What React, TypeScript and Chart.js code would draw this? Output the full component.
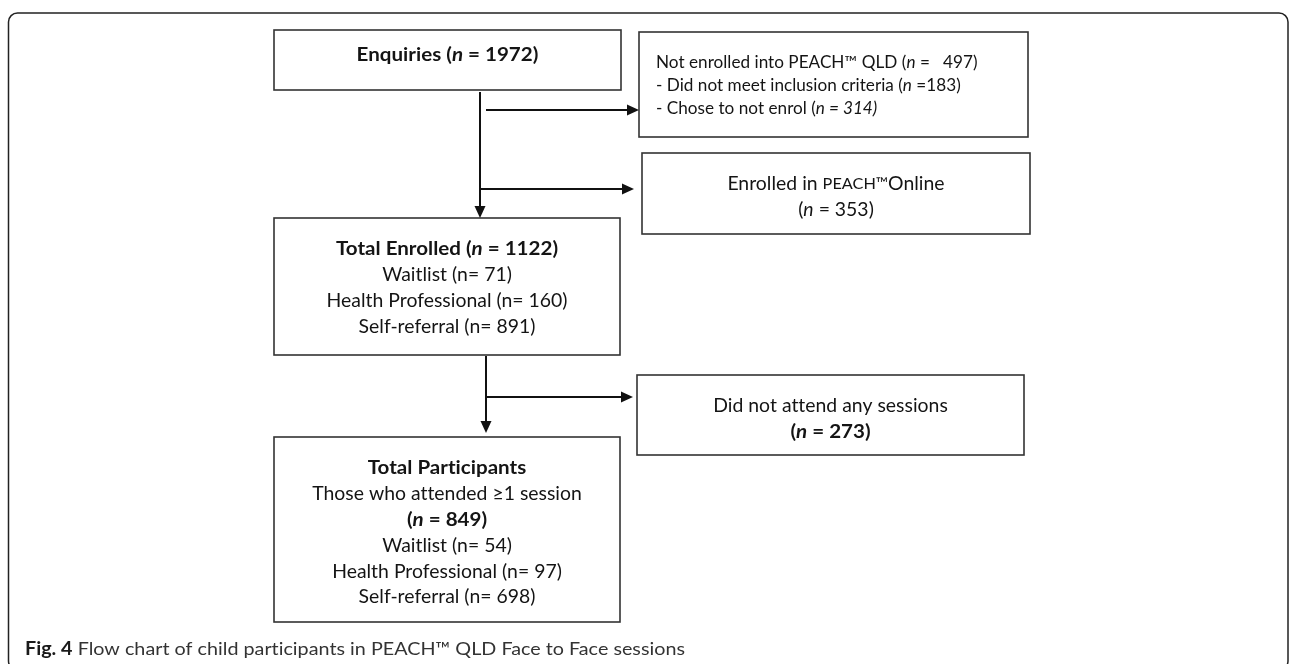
import React, { useEffect, useRef } from 'react';
import { Chart, registerables } from 'chart.js';

Chart.register(...registerables);

// ---------------- DATA ----------------
const stageLabels = ['Enquiries', 'Total Enrolled', 'Total Participants'];
const stageCounts = [1972, 1122, 849];
const exitLabels = ['Not enrolled into PEACH™ QLD', 'Enrolled in ', 'Did not attend any sessions'];
const exitCounts = [497, 353, 273];
const notEnrolledReasons = ['- Did not meet inclusion criteria', '- Chose to not enrol'];
const notEnrolledCounts = [183, 314];
const referralSources = ['Waitlist', 'Health Professional', 'Self-referral'];
const enrolledBySource = [71, 160, 891];
const participantsBySource = [54, 97, 698];
const participantsNote = 'Those who attended ≥1 session';
const captionBold = 'Fig. 4';
const captionText = ' Flow chart of child participants in PEACH™ QLD Face to Face sessions';

// ---------------- STYLE / LAYOUT ----------------
type Run = { t: string; b?: boolean; i?: boolean; s?: number };
type Line = Run[];

const FONT = 'Lato, "Open Sans", sans-serif';
const BODY_SIZE = 19;
const CAPTION_SIZE = 18;
const BOLD_WIDEN = 1.06;
const TEXT_COLOR = '#141414';
const BOX_COLOR = '#333333';
const ARROW_COLOR = '#111111';

interface BoxLayout {
  x0: number; x1: number; y0: number; y1: number;
  align: 'center' | 'left';
  textX?: number;
  size?: number;
  lineY: number[];
}

const layout: Record<string, BoxLayout> = {
  enquiries: { x0: 274, x1: 621, y0: 30, y1: 90, align: 'center', lineY: [55] },
  notEnrolled: { x0: 639, x1: 1028, y0: 32, y1: 137, align: 'left', textX: 656, size: 0.885, lineY: [63, 86, 109] },
  online: { x0: 642, x1: 1030, y0: 153, y1: 234, align: 'center', lineY: [184, 210] },
  enrolled: { x0: 274, x1: 620, y0: 218, y1: 355, align: 'center', lineY: [249, 275, 301, 327] },
  noAttend: { x0: 637, x1: 1024, y0: 375, y1: 455, align: 'center', lineY: [406, 432] },
  participants: { x0: 274, x1: 620, y0: 437, y1: 622, align: 'center', lineY: [468, 494, 520, 546, 572, 597] },
};

// arrows: [x0, y0, x1, y1] connector geometry
const arrowLayout: number[][] = [
  [480, 92, 480, 218],
  [486, 110, 639, 110],
  [480, 189, 634, 189],
  [486, 356, 486, 433],
  [486, 397, 633, 397],
];

const frame = { x0: 8.5, y0: 13, x1: 1288, y1: 670, r: 9 };
const captionPos = { x: 25, y: 655, width: 660 };

// ---------------- TEXT BUILD ----------------
const boldN = (v: number): Line => [{ t: '(', b: true }, { t: 'n', b: true, i: true }, { t: ` = ${v})`, b: true }];
const srcLine = (k: number, v: number): Line => [{ t: `${referralSources[k]} (n= ${v})` }];

const boxTexts: Record<string, Line[]> = {
  enquiries: [[{ t: `${stageLabels[0]} (`, b: true }, { t: 'n', b: true, i: true }, { t: ` = ${stageCounts[0]})`, b: true }]],
  notEnrolled: [
    [{ t: `${exitLabels[0]} (` }, { t: 'n', i: true }, { t: ` =   ${exitCounts[0]})` }],
    [{ t: `${notEnrolledReasons[0]} (` }, { t: 'n', i: true }, { t: ` =${notEnrolledCounts[0]})` }],
    [{ t: `${notEnrolledReasons[1]} (` }, { t: `n = ${notEnrolledCounts[1]})`, i: true }],
  ],
  online: [
    [{ t: exitLabels[1] }, { t: 'PEACH™', s: 0.84 }, { t: 'Online' }],
    [{ t: '(' }, { t: 'n', i: true }, { t: ` = ${exitCounts[1]})` }],
  ],
  enrolled: [
    [{ t: `${stageLabels[1]} (`, b: true }, { t: 'n', b: true, i: true }, { t: ` = ${stageCounts[1]})`, b: true }],
    srcLine(0, enrolledBySource[0]),
    srcLine(1, enrolledBySource[1]),
    srcLine(2, enrolledBySource[2]),
  ],
  noAttend: [[{ t: exitLabels[2] }], boldN(exitCounts[2])],
  participants: [
    [{ t: stageLabels[2], b: true }],
    [{ t: participantsNote }],
    boldN(stageCounts[2]),
    srcLine(0, participantsBySource[0]),
    srcLine(1, participantsBySource[1]),
    srcLine(2, participantsBySource[2]),
  ],
};

function fontFor(r: Run, size: number) {
  return `${r.i ? 'italic ' : ''}${r.b ? 'bold ' : ''}${(size * (r.s || 1)).toFixed(2)}px ${FONT}`;
}

function setNoLig(ctx: CanvasRenderingContext2D) {
  const c = ctx as any;
  if ('letterSpacing' in c) c.letterSpacing = '0.01px';
}

function runW(ctx: CanvasRenderingContext2D, r: Run, size: number) {
  ctx.font = fontFor(r, size);
  return ctx.measureText(r.t).width * (r.b ? BOLD_WIDEN : 1);
}

function runsWidth(ctx: CanvasRenderingContext2D, runs: Line, size: number) {
  let w = 0;
  for (const r of runs) w += runW(ctx, r, size);
  return w;
}

function drawRuns(
  ctx: CanvasRenderingContext2D, runs: Line, x: number, y: number,
  align: 'center' | 'left', size: number, sx: number, color: string,
  baseline: CanvasTextBaseline = 'middle'
) {
  const w = runsWidth(ctx, runs, size) * sx;
  let cx = align === 'center' ? x - w / 2 : x;
  for (const r of runs) {
    const f = sx * (r.b ? BOLD_WIDEN : 1);
    ctx.save();
    ctx.translate(cx, y);
    ctx.scale(f, 1);
    ctx.fillStyle = color;
    ctx.textAlign = 'left';
    ctx.textBaseline = baseline;
    ctx.font = fontFor(r, size);
    ctx.fillText(r.t, 0, 0);
    ctx.restore();
    cx += runW(ctx, r, size) * sx;
  }
}

const flowPlugin = {
  id: 'flowchart',
  afterDraw(chart: any) {
    const ctx: CanvasRenderingContext2D = chart.ctx;
    const xs = chart.scales.x;
    const ys = chart.scales.y;
    const px = (v: number) => xs.getPixelForValue(v);
    const py = (v: number) => ys.getPixelForValue(v);

    ctx.save();
    setNoLig(ctx);

    // condense factor so the substitute font matches the reference line widths
    const bodySx = Math.min(1.1, Math.max(0.7, 241 / runsWidth(ctx, [{ t: 'Health Professional (n= 160)' }], BODY_SIZE)));

    // outer frame
    ctx.strokeStyle = '#222';
    ctx.lineWidth = 1.5;
    ctx.beginPath();
    ctx.roundRect(px(frame.x0), py(frame.y0), px(frame.x1) - px(frame.x0), py(frame.y1) - py(frame.y0), frame.r);
    ctx.stroke();

    // boxes
    ctx.strokeStyle = BOX_COLOR;
    ctx.lineWidth = 1.6;
    for (const key of Object.keys(layout)) {
      const b = layout[key];
      ctx.strokeRect(px(b.x0), py(b.y0), px(b.x1) - px(b.x0), py(b.y1) - py(b.y0));
      const lines = boxTexts[key];
      const size = BODY_SIZE * (b.size || 1);
      lines.forEach((ln, i) => {
        const tx = b.align === 'center' ? px((b.x0 + b.x1) / 2) : px(b.textX as number);
        drawRuns(ctx, ln, tx, py(b.lineY[i]), b.align, size, bodySx, TEXT_COLOR);
      });
    }

    // arrows
    ctx.strokeStyle = ARROW_COLOR;
    ctx.fillStyle = ARROW_COLOR;
    ctx.lineWidth = 2;
    const headLen = 12;
    const headHalf = 5.5;
    for (const a of arrowLayout) {
      const x0 = px(a[0]), y0 = py(a[1]), x1 = px(a[2]), y1 = py(a[3]);
      const dx = x1 - x0, dy = y1 - y0;
      const len = Math.hypot(dx, dy);
      const ux = dx / len, uy = dy / len;
      const bx = x1 - ux * headLen, by = y1 - uy * headLen;
      ctx.beginPath();
      ctx.moveTo(x0, y0);
      ctx.lineTo(bx, by);
      ctx.stroke();
      ctx.beginPath();
      ctx.moveTo(x1, y1);
      ctx.lineTo(bx - uy * headHalf, by + ux * headHalf);
      ctx.lineTo(bx + uy * headHalf, by - ux * headHalf);
      ctx.closePath();
      ctx.fill();
    }

    // caption
    const r0: Run = { t: captionBold, b: true };
    const r1: Run = { t: captionText };
    ctx.font = fontFor(r0, CAPTION_SIZE);
    const w0 = ctx.measureText(r0.t).width;
    ctx.font = fontFor(r1, CAPTION_SIZE);
    const w1 = ctx.measureText(r1.t).width;
    const capSx = Math.min(1.2, Math.max(0.7, captionPos.width / (w0 + w1)));
    ctx.save();
    ctx.translate(px(captionPos.x), py(captionPos.y));
    ctx.scale(capSx, 1);
    ctx.textBaseline = 'alphabetic';
    ctx.textAlign = 'left';
    ctx.font = fontFor(r0, CAPTION_SIZE);
    ctx.fillStyle = '#1a1a1a';
    ctx.fillText(r0.t, 0, 0);
    ctx.font = fontFor(r1, CAPTION_SIZE);
    ctx.fillStyle = '#333333';
    ctx.fillText(r1.t, w0, 0);
    ctx.restore();

    ctx.restore();
  },
};

export default function App() {
  const canvasRef = useRef<HTMLCanvasElement | null>(null);

  useEffect(() => {
    let chart: Chart | null = null;
    let cancelled = false;
    const build = () => {
      if (cancelled || !canvasRef.current) return;
      chart = new Chart(canvasRef.current, {
        type: 'scatter',
        data: { datasets: [] },
        options: {
          animation: false,
          responsive: false,
          devicePixelRatio: 1,
          layout: { padding: 0 },
          events: [],
          plugins: { legend: { display: false }, tooltip: { enabled: false }, title: { display: false } },
          scales: {
            x: { type: 'linear', min: 0, max: 1290, display: false },
            y: { type: 'linear', min: 0, max: 664, reverse: true, display: false },
          },
        },
        plugins: [flowPlugin],
      });
    };
    const fontsApi = (document as any).fonts;
    if (fontsApi && fontsApi.load) {
      Promise.all([
        fontsApi.load(`${BODY_SIZE}px Lato`),
        fontsApi.load(`bold ${BODY_SIZE}px Lato`),
        fontsApi.load(`italic ${BODY_SIZE}px Lato`),
        fontsApi.load(`bold italic ${BODY_SIZE}px Lato`),
      ]).catch(() => undefined).then(build);
    } else {
      build();
    }
    return () => {
      cancelled = true;
      if (chart) chart.destroy();
    };
  }, []);

  return (
    <div style={{ position: 'fixed', left: 0, top: 0, width: 1290, height: 664, background: '#fff', overflow: 'hidden' }}>
      <canvas ref={canvasRef} width={1290} height={664} style={{ display: 'block', width: 1290, height: 664 }} />
    </div>
  );
}
